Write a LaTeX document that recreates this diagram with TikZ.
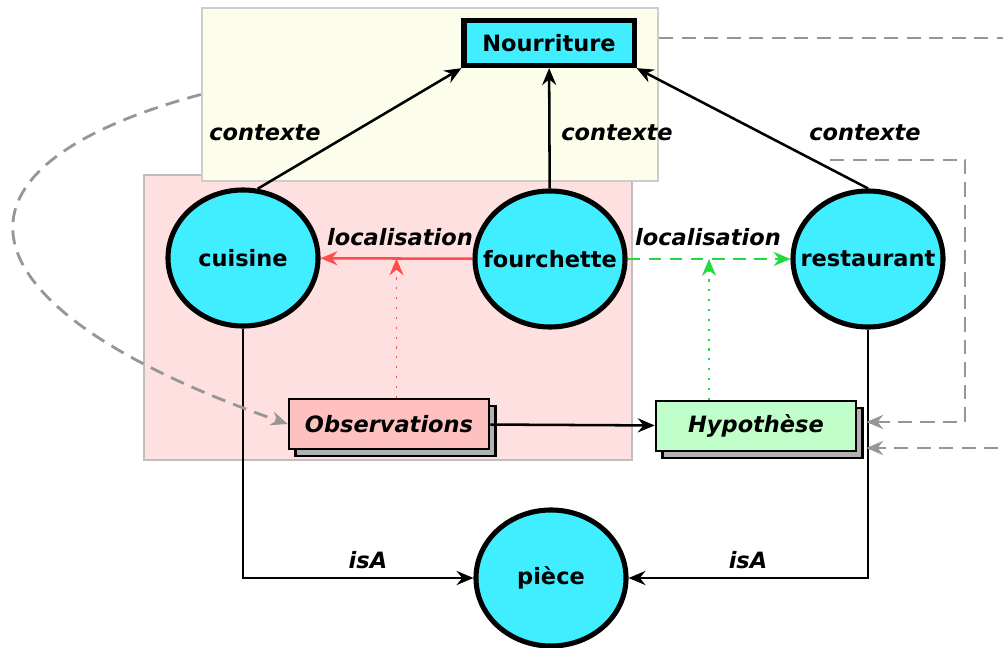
\documentclass[tikz,border=0pt]{standalone}
\usepackage{fontspec}
\setmainfont{DejaVu Sans}
\usetikzlibrary{shapes.geometric,arrows.meta,shadows,calc}
\definecolor{conceptblue}{RGB}{64,238,255}
\definecolor{ctxyellow}{RGB}{252,253,234}
\definecolor{ctxborder}{RGB}{205,205,205}
\definecolor{roompink}{RGB}{255,224,224}
\definecolor{roomborder}{RGB}{190,190,190}
\definecolor{obspink}{RGB}{255,192,192}
\definecolor{hypgreen}{RGB}{192,255,202}
\definecolor{locred}{RGB}{255,76,76}
\definecolor{locgreen}{RGB}{30,220,60}
\definecolor{linkgray}{RGB}{150,150,150}
\newcommand{\ctext}[1]{\makebox[0pt]{#1}}
\tikzset{>={Stealth[length=12pt,width=10pt,inset=4pt]},
	concept/.style={ellipse,draw,line width=3.6pt,fill=conceptblue,
		minimum width=3.75cm,minimum height=3.4cm,inner sep=0pt,
		font=\fontsize{16}{19}\selectfont\bfseries},
	classbox/.style={rectangle,draw,line width=3.6pt,fill=conceptblue,
		minimum width=4.25cm,minimum height=1.13cm,
		font=\fontsize{16}{19}\selectfont\bfseries},
	databox/.style={rectangle,draw,line width=1.8pt,
		minimum width=5cm,minimum height=1.25cm,
		copy shadow={shadow xshift=0.16cm,shadow yshift=-0.17cm,
			fill=black!30,draw=black,line width=1.8pt},
		font=\fontsize{16}{19}\selectfont\bfseries\itshape},
	zone/.style={rectangle,line width=1.6pt,inner sep=0pt},
	lbl/.style={font=\fontsize{16}{19}\selectfont\bfseries\itshape},
	rel/.style={->,line width=1.8pt},
	link/.style={->,draw=linkgray,line width=2pt,dash pattern=on 10pt off 6pt},
	}

\begin{document}
\begin{tikzpicture}[x=0.025cm,y=-0.025cm]
  \useasboundingbox (0,0) rectangle (1003,648);
  \node[zone,fill=roompink,draw=roomborder,minimum width=12.2cm,minimum height=7.13cm] (room) at (388,317.5) {};
  \node[zone,fill=ctxyellow,draw=ctxborder,minimum width=11.4cm,minimum height=4.33cm] (ctx) at (430,94.5) {};

  \node[classbox] (nour) at (549,43) {Nourriture};
  \node[concept] (cui) at (243,258) {\ctext{cuisine}};
  \node[concept] (four) at (550,259) {\ctext{fourchette}};
  \node[concept] (rest) at (868,259) {\ctext{restaurant}};
  \node[concept] (piece) at (551,578) {\ctext{pièce}};
  \node[databox,fill=obspink] (obs) at (389,424) {Observations};
  \node[databox,fill=hypgreen] (hyp) at (756,426) {Hypothèse};

  \node[lbl] (c1) at (265,133) {contexte};
  \node[lbl] (c2) at (617,133) {contexte};
  \node[lbl] (c3) at (865,133) {contexte};
  \node[lbl] (l1) at (400,237) {localisation};
  \node[lbl] (l2) at (708,237) {localisation};
  \node[lbl] (i1) at (368,560) {isA};
  \node[lbl] (i2) at (748,560) {isA};

  \foreach \from/\to in {cui.78/nour.south west,four/nour,rest.north/nour.south east}
    \draw[rel] (\from) -- (\to);
  \draw[rel] (obs) -- (hyp);
  \draw[rel] (cui) |- (piece);
  \draw[rel] (rest) |- (piece);

  \draw[->,locred,line width=1.8pt] (four) -- coordinate (rmid) (cui);
  \draw[->,locgreen,line width=1.8pt,dash pattern=on 9pt off 6pt] (four) -- coordinate (gmid) (rest);
  \draw[->,locred,line width=1.4pt,dash pattern=on 1.5pt off 5.5pt] (obs.north -| rmid) -- (rmid);
  \draw[->,locgreen,line width=1.4pt,dash pattern=on 1.5pt off 5.5pt] (hyp.north -| gmid) -- (gmid);

  \coordinate (lnk) at (830,160);
  \draw[link] (ctx.west) .. controls (-80,170) and (-40,310) .. (obs.west);
  \draw[link] (lnk) -- (965,160) -- (965,422) -- ($(hyp.east)+(9,-4)$);
  \draw[link] (ctx.east |- 0,38) -- (1040,38) -- (1040,448) -- ($(hyp.east)+(9,22)$);
\end{tikzpicture}
\end{document}
